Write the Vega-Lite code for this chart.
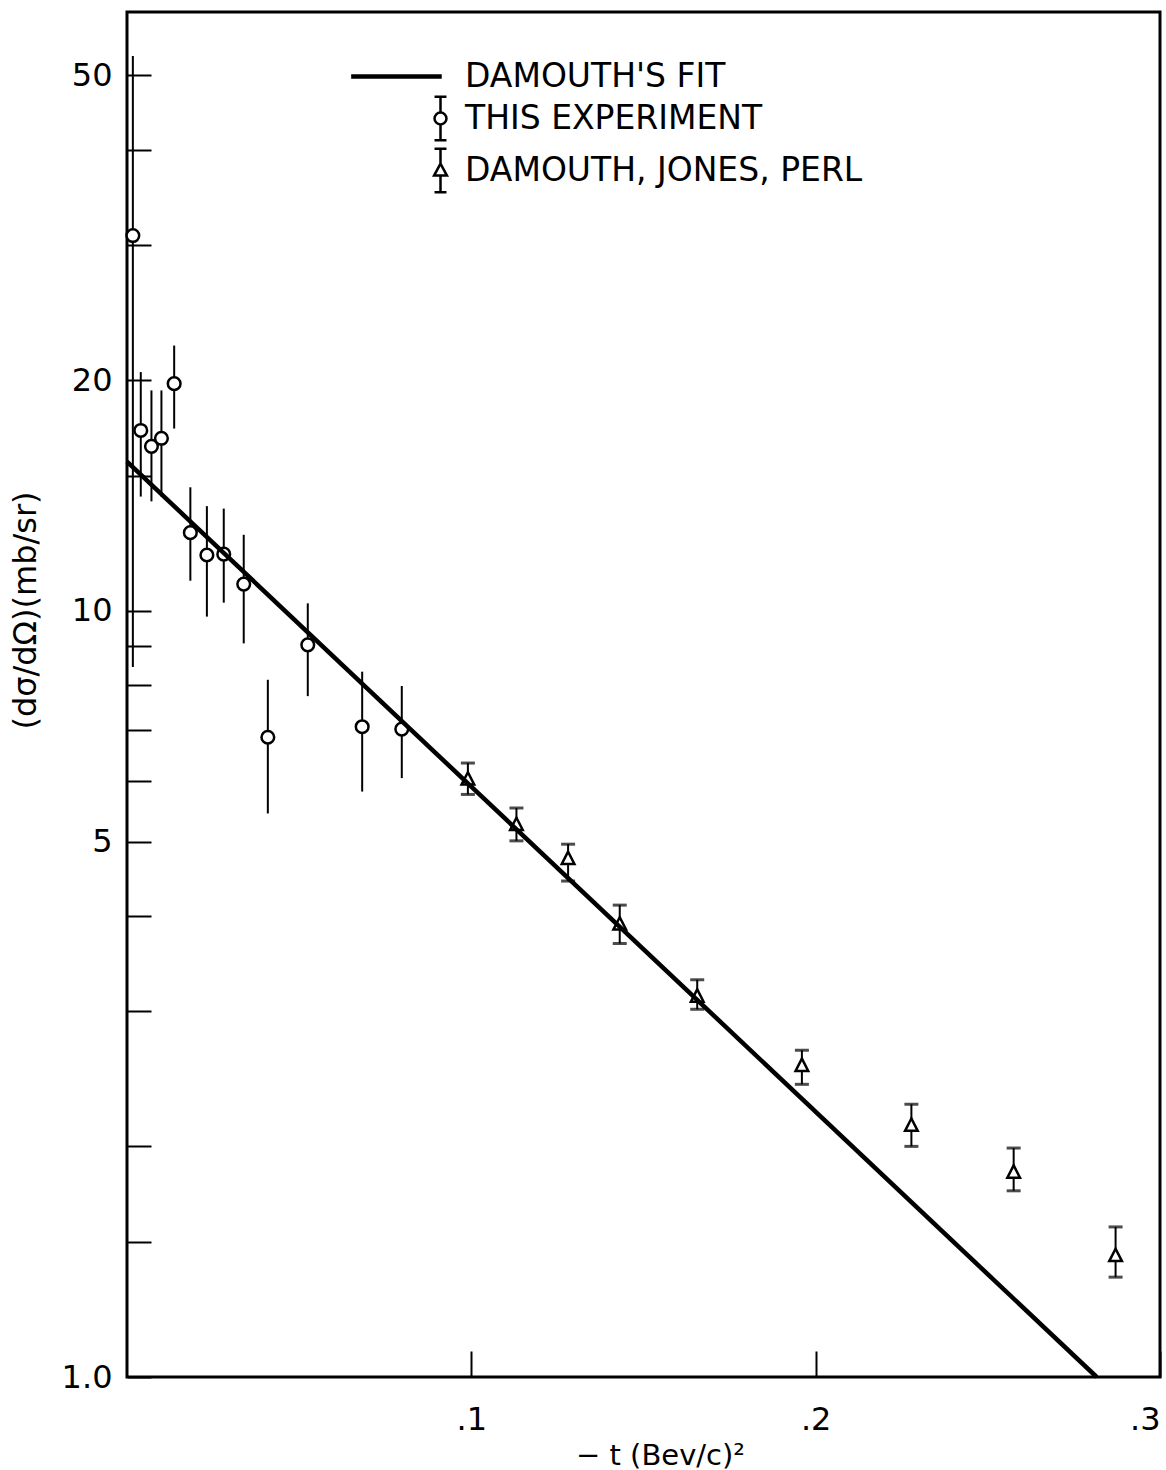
{
  "$schema": "https://vega.github.io/schema/vega-lite/v6.json",
  "width": 1033,
  "height": 1365,
  "autosize": {"type": "none"},
  "padding": {"left": 127, "top": 12, "right": 6, "bottom": 93},
  "background": "white",
  "config": {
    "view": {"stroke": "black", "strokeWidth": 3},
    "font": "DejaVu Sans",
    "axis": {
      "grid": false,
      "domain": false,
      "tickColor": "black",
      "tickWidth": 2,
      "labelColor": "black",
      "titleColor": "black",
      "labelFont": "DejaVu Sans",
      "titleFont": "DejaVu Sans",
      "titleFontWeight": "normal",
      "labelFontSize": 32,
      "labelFlush": false
    }
  },
  "datasets": {
    "pts": [
      {"series": "THIS EXPERIMENT", "t": 0.0017, "ds": 30.9, "lo": 8.45, "hi": 53.0},
      {"series": "THIS EXPERIMENT", "t": 0.0040, "ds": 17.2, "lo": 14.1, "hi": 20.5},
      {"series": "THIS EXPERIMENT", "t": 0.0071, "ds": 16.4, "lo": 13.9, "hi": 19.4},
      {"series": "THIS EXPERIMENT", "t": 0.0100, "ds": 16.8, "lo": 14.1, "hi": 19.4},
      {"series": "THIS EXPERIMENT", "t": 0.0137, "ds": 19.8, "lo": 17.3, "hi": 22.2},
      {"series": "THIS EXPERIMENT", "t": 0.0184, "ds": 12.65, "lo": 10.95, "hi": 14.5},
      {"series": "THIS EXPERIMENT", "t": 0.0232, "ds": 11.83, "lo": 9.83, "hi": 13.7},
      {"series": "THIS EXPERIMENT", "t": 0.0281, "ds": 11.86, "lo": 10.25, "hi": 13.6},
      {"series": "THIS EXPERIMENT", "t": 0.0339, "ds": 10.84, "lo": 9.07, "hi": 12.57},
      {"series": "THIS EXPERIMENT", "t": 0.0409, "ds": 6.84, "lo": 5.44, "hi": 8.13},
      {"series": "THIS EXPERIMENT", "t": 0.0525, "ds": 9.03, "lo": 7.74, "hi": 10.23},
      {"series": "THIS EXPERIMENT", "t": 0.0683, "ds": 7.06, "lo": 5.81, "hi": 8.33},
      {"series": "THIS EXPERIMENT", "t": 0.0798, "ds": 7.01, "lo": 6.05, "hi": 7.98},
      {"series": "DAMOUTH, JONES, PERL", "t": 0.0990, "ds": 6.03, "lo": 5.76, "hi": 6.33},
      {"series": "DAMOUTH, JONES, PERL", "t": 0.1131, "ds": 5.26, "lo": 5.01, "hi": 5.53},
      {"series": "DAMOUTH, JONES, PERL", "t": 0.1281, "ds": 4.75, "lo": 4.44, "hi": 4.96},
      {"series": "DAMOUTH, JONES, PERL", "t": 0.1431, "ds": 3.90, "lo": 3.68, "hi": 4.13},
      {"series": "DAMOUTH, JONES, PERL", "t": 0.1656, "ds": 3.14, "lo": 3.02, "hi": 3.30},
      {"series": "DAMOUTH, JONES, PERL", "t": 0.1960, "ds": 2.55, "lo": 2.41, "hi": 2.67},
      {"series": "DAMOUTH, JONES, PERL", "t": 0.2278, "ds": 2.13, "lo": 2.00, "hi": 2.27},
      {"series": "DAMOUTH, JONES, PERL", "t": 0.2575, "ds": 1.85, "lo": 1.75, "hi": 1.99},
      {"series": "DAMOUTH, JONES, PERL", "t": 0.2871, "ds": 1.44, "lo": 1.35, "hi": 1.57}
    ],
    "fit": [
      {"series": "DAMOUTH'S FIT", "t": 0.0, "ds": 15.66},
      {"series": "DAMOUTH'S FIT", "t": 0.2816, "ds": 1.0}
    ]
  },
  "encoding": {
    "x": {
      "field": "t", "type": "quantitative",
      "scale": {"domain": [0, 0.3], "nice": false, "zero": false},
      "axis": {
        "values": [0.1, 0.2, 0.3],
        "labelExpr": "replace(format(datum.value, '.1f'), '0.', '.')",
        "labelFlush": true,
        "tickSize": -26,
        "labelPadding": 53,
        "title": "− t (Bev/c)²",
        "titleFontSize": 29,
        "titleX": 533,
        "titleY": 78,
        "titleBaseline": "middle"
      }
    },
    "y": {
      "field": "ds", "type": "quantitative",
      "scale": {"type": "log", "domain": [1, 60.5], "nice": false},
      "axis": {
        "values": [1, 1.5, 2, 3, 4, 5, 6, 7, 8, 9, 10, 15, 20, 30, 40, 50],
        "labelExpr": "datum.value == 1 ? '1.0' : ((datum.value == 5 || datum.value == 10 || datum.value == 20 || datum.value == 50) ? toString(datum.value) : '')",
        "tickSize": -24,
        "labelPadding": 39,
        "title": "(dσ/dΩ)(mb/sr)",
        "titleFontSize": 32,
        "titleX": -102,
        "titleY": 598,
        "titleAngle": -90,
        "titleAlign": "center",
        "titleBaseline": "middle"
      }
    }
  },
  "layer": [
    {
      "data": {"name": "pts"},
      "mark": {"type": "rule", "color": "black", "strokeWidth": 2},
      "encoding": {
        "y": {"field": "lo", "type": "quantitative"},
        "y2": {"field": "hi"}
      }
    },
    {
      "data": {"name": "pts"},
      "transform": [{"filter": "datum.series == 'DAMOUTH, JONES, PERL'"}, {"fold": ["lo", "hi"], "as": ["end", "val"]}],
      "mark": {"type": "tick", "orient": "horizontal", "color": "black", "size": 14, "thickness": 3},
      "encoding": {
        "y": {"field": "val", "type": "quantitative"}
      }
    },
    {
      "data": {"name": "pts"},
      "mark": {"type": "point", "filled": true, "fill": "white", "stroke": "black", "strokeWidth": 2.5, "opacity": 1, "size": 160},
      "encoding": {
        "shape": {
          "field": "series", "type": "nominal",
          "scale": {"domain": ["THIS EXPERIMENT", "DAMOUTH, JONES, PERL"], "range": ["circle", "M0,-1.1L-1,0.85L1,0.85Z"]},
          "legend": null
        }
      }
    },
    {
      "data": {"name": "fit"},
      "mark": {"type": "line", "color": "black", "strokeWidth": 4.5},
      "encoding": {}
    },
    {
      "data": {"name": "pts"},
      "transform": [{"filter": "datum.t < 0"}],
      "mark": {"type": "point", "filled": false, "color": "black", "stroke": "black", "strokeWidth": 2.5, "opacity": 1},
      "encoding": {
        "shape": {
          "field": "series", "type": "nominal",
          "scale": {
            "domain": ["DAMOUTH'S FIT", "THIS EXPERIMENT", "DAMOUTH, JONES, PERL"],
            "range": [
              "M-3.83,-0.04H0V0.04H-3.83Z",
              "M-0.26,-0.95H0.26M0,-0.95V-0.26M0,0.26V0.95M-0.26,0.95H0.26M0.26,0A0.26,0.26 0 1 1 -0.26,0A0.26,0.26 0 1 1 0.26,0Z",
              "M-0.26,-0.95H0.26M0,-0.95V-0.3M0,0.22V0.95M-0.26,0.95H0.26M0,-0.3L-0.28,0.22L0.28,0.22Z"
            ]
          },
          "legend": {
            "title": null,
            "orient": "none",
            "legendX": 289,
            "legendY": 40,
            "padding": 0,
            "symbolSize": 2116,
            "symbolStrokeWidth": 2.5,
            "symbolStrokeColor": "black",
            "symbolOpacity": 1,
            "rowPadding": -4,
            "labelFont": "DejaVu Sans",
            "labelFontSize": 33,
            "labelColor": "black",
            "labelOffset": 0,
            "labelLimit": 0
          }
        }
      }
    }
  ],
  "resolve": {"scale": {"shape": "independent"}, "legend": {"shape": "independent"}}
}
